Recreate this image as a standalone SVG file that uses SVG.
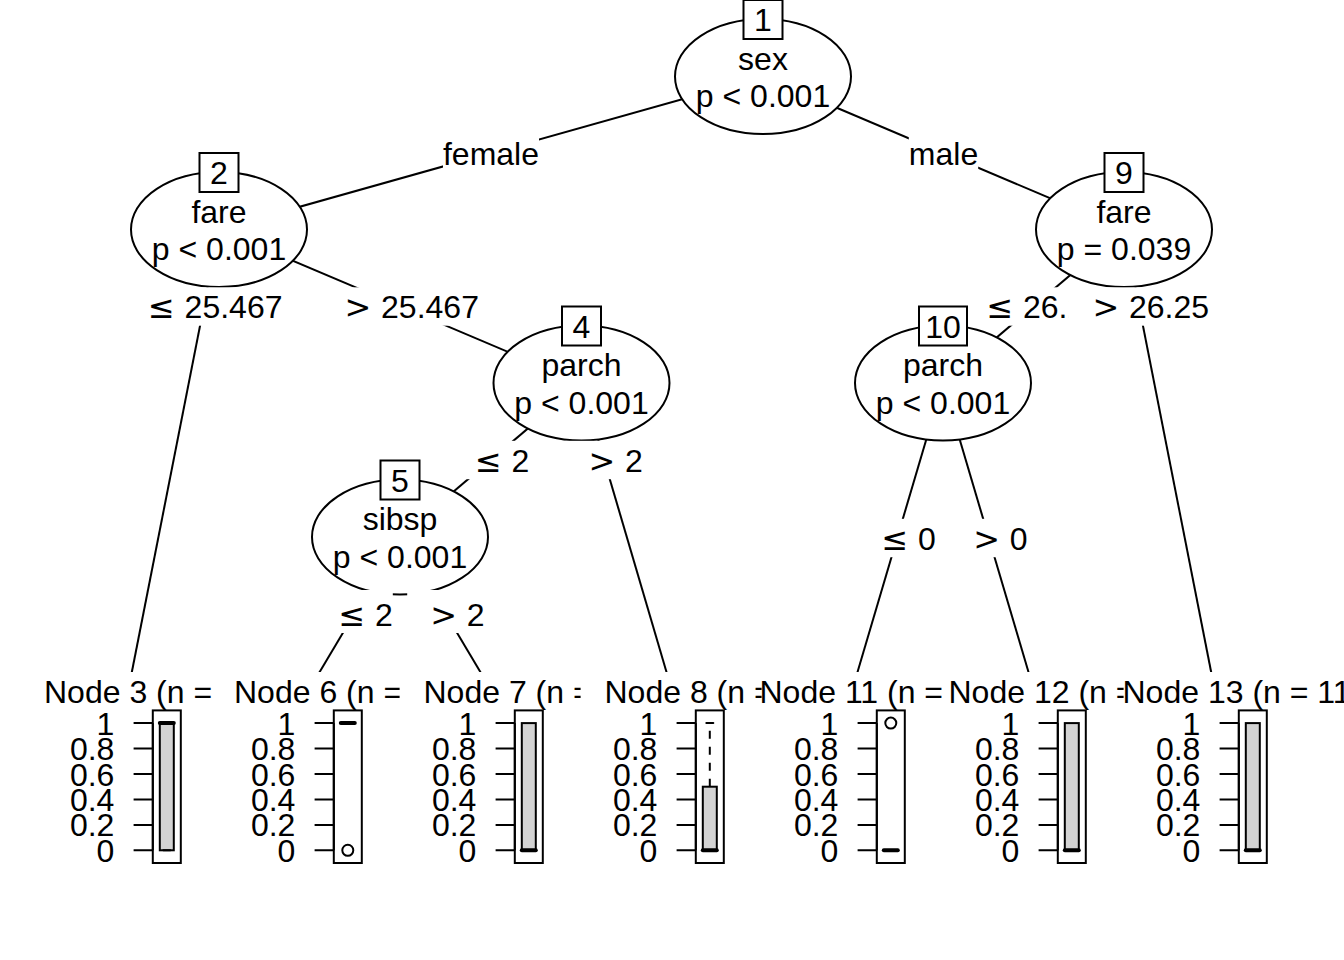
<svg xmlns="http://www.w3.org/2000/svg" width="1344" height="960" viewBox="0 0 1344 960">
<style>
text{font-family:"Liberation Sans",Arial,"DejaVu Sans",sans-serif;font-size:32px;fill:#000}
.op{font-family:"DejaVu Sans","Liberation Sans",sans-serif}
.c{text-anchor:middle}
.e{text-anchor:end}
.ln{stroke:#000;stroke-width:2;fill:none}
.nd{fill:#fff;stroke:#000;stroke-width:2}
.bg{fill:#fff;stroke:none}
.bx{fill:#d3d3d3;stroke:#000;stroke-width:2}
.md{stroke:#000;stroke-width:4;stroke-linecap:round}
.wh{stroke:#000;stroke-width:2;stroke-linecap:round}
.ds{stroke:#000;stroke-width:2;stroke-dasharray:8 8}
.pt{fill:none;stroke:#000;stroke-width:2}
.fr{fill:none;stroke:#000;stroke-width:2}
</style>
<rect width="1344" height="960" fill="#fff"/>
<g id="connectors" class="ln">
<line x1="763" y1="76.5" x2="219" y2="229.5"/>
<line x1="763" y1="76.5" x2="1124" y2="229.5"/>
<line x1="219" y1="229.5" x2="128.5" y2="689"/>
<line x1="219" y1="229.5" x2="581.5" y2="383"/>
<line x1="581.5" y1="383" x2="400" y2="537"/>
<line x1="400" y1="537" x2="309.5" y2="689"/>
<line x1="400" y1="537" x2="490.5" y2="689"/>
<line x1="581.5" y1="383" x2="671.5" y2="689"/>
<line x1="1124" y1="229.5" x2="943" y2="383"/>
<line x1="943" y1="383" x2="852.5" y2="689"/>
<line x1="943" y1="383" x2="1033.5" y2="689"/>
<line x1="1124" y1="229.5" x2="1214.5" y2="689"/>
</g>
<g id="node1">
<ellipse class="nd" cx="763" cy="76.5" rx="88" ry="57.5"/>
<rect class="nd" x="743.5" y="0" width="39" height="39"/>
<text class="c" x="763" y="31">1</text>
<text class="c" x="763" y="69.5">sex</text>
<text class="c" x="763" y="107">p &lt; 0.001</text>
</g>
<g id="node2">
<ellipse class="nd" cx="219" cy="229.5" rx="88" ry="57.5"/>
<rect class="nd" x="199.5" y="153" width="39" height="39"/>
<text class="c" x="219" y="184">2</text>
<text class="c" x="219" y="222.5">fare</text>
<text class="c" x="219" y="260">p &lt; 0.001</text>
</g>
<g id="node4">
<ellipse class="nd" cx="581.5" cy="383" rx="88" ry="57.5"/>
<rect class="nd" x="562" y="306.5" width="39" height="39"/>
<text class="c" x="581.5" y="337.5">4</text>
<text class="c" x="581.5" y="376">parch</text>
<text class="c" x="581.5" y="413.5">p &lt; 0.001</text>
</g>
<g id="node5">
<ellipse class="nd" cx="400" cy="537" rx="88" ry="57.5"/>
<rect class="nd" x="380.5" y="460.5" width="39" height="39"/>
<text class="c" x="400" y="491.5">5</text>
<text class="c" x="400" y="530">sibsp</text>
<text class="c" x="400" y="567.5">p &lt; 0.001</text>
</g>
<g id="node9">
<ellipse class="nd" cx="1124" cy="229.5" rx="88" ry="57.5"/>
<rect class="nd" x="1104.5" y="153" width="39" height="39"/>
<text class="c" x="1124" y="184">9</text>
<text class="c" x="1124" y="222.5">fare</text>
<text class="c" x="1124" y="260">p = 0.039</text>
</g>
<g id="node10">
<ellipse class="nd" cx="943" cy="383" rx="88" ry="57.5"/>
<rect class="nd" x="919" y="306.5" width="48" height="39"/>
<text class="c" x="943" y="337.5">10</text>
<text class="c" x="943" y="376">parch</text>
<text class="c" x="943" y="413.5">p &lt; 0.001</text>
</g>
<g id="edge-labels">
<rect class="bg" x="443" y="134.3" width="96" height="38.4"/>
<text class="c" x="491" y="165">female</text>
<rect class="bg" x="908.8" y="134.3" width="69.4" height="38.4"/>
<text class="c" x="943.5" y="165">male</text>
<rect class="bg" x="125.1" y="287.3" width="157.4" height="38.4"/>
<text y="318"><tspan class="op" x="148.1">≤</tspan><tspan x="184.6">25.467</tspan></text>
<rect class="bg" x="321.55" y="287.3" width="157.4" height="38.4"/>
<text y="318"><tspan class="op" x="344.5">&gt;</tspan><tspan x="381.05">25.467</tspan></text>
<rect class="bg" x="969" y="287.3" width="134" height="38.4"/>
<text y="318"><tspan class="op" x="986.4">≤</tspan><tspan x="1022.9">26.25</tspan></text>
<rect class="bg" x="1068.2" y="287.3" width="140.8" height="38.4"/>
<text y="318"><tspan class="op" x="1092.4">&gt;</tspan><tspan x="1128.9">26.25</tspan></text>
<rect class="bg" x="452.1" y="440.8" width="77.3" height="38.4"/>
<text y="471.5"><tspan class="op" x="475.1">≤</tspan><tspan x="511.6">2</tspan></text>
<rect class="bg" x="565.45" y="440.8" width="77.3" height="38.4"/>
<text y="471.5"><tspan class="op" x="588.45">&gt;</tspan><tspan x="624.95">2</tspan></text>
<rect class="bg" x="315.5" y="590" width="77.3" height="43"/>
<text y="625.5"><tspan class="op" x="338.5">≤</tspan><tspan x="375">2</tspan></text>
<rect class="bg" x="407.2" y="590" width="77.3" height="43"/>
<text y="625.5"><tspan class="op" x="430.2">&gt;</tspan><tspan x="466.7">2</tspan></text>
<rect class="bg" x="858.55" y="518.8" width="77.3" height="38.4"/>
<text y="549.5"><tspan class="op" x="881.55">≤</tspan><tspan x="918.05">0</tspan></text>
<rect class="bg" x="950.15" y="518.8" width="77.3" height="38.4"/>
<text y="549.5"><tspan class="op" x="973.15">&gt;</tspan><tspan x="1009.65">0</tspan></text>
</g>
<defs>
<g id="axis">
<line class="ln" x1="24.3" y1="723.1" x2="24.3" y2="850.3"/>
<path class="ln" d="M5.1 850.3H24.3M5.1 824.9H24.3M5.1 799.4H24.3M5.1 774H24.3M5.1 748.6H24.3M5.1 723.1H24.3"/>
<text class="e" x="-14.1" y="861.8">0</text>
<text class="e" x="-14.1" y="836.4">0.2</text>
<text class="e" x="-14.1" y="810.9">0.4</text>
<text class="e" x="-14.1" y="785.5">0.6</text>
<text class="e" x="-14.1" y="760.1">0.8</text>
<text class="e" x="-14.1" y="734.6">1</text>
</g>
</defs>
<g id="node3">
<rect class="bg" x="37.6" y="672" width="181.8" height="191"/>
<text x="44" y="703">Node 3 (n =</text>
<use href="#axis" x="128.5"/>
<rect class="bx" x="159.8" y="723.1" width="14" height="127.2"/>
<line class="wh" x1="163.3" y1="850.3" x2="170.3" y2="850.3"/>
<line class="md" x1="159.8" y1="723.1" x2="173.8" y2="723.1"/>
<rect class="fr" x="152.8" y="710.4" width="28" height="152.6"/>
</g>
<g id="node6">
<rect class="bg" x="218.6" y="672" width="181.8" height="191"/>
<text x="234" y="703">Node 6 (n =</text>
<use href="#axis" x="309.5"/>
<line class="md" x1="340.8" y1="723.1" x2="354.8" y2="723.1"/>
<circle class="pt" cx="347.8" cy="850.3" r="5.5"/>
<rect class="fr" x="333.8" y="710.4" width="28" height="152.6"/>
</g>
<g id="node7">
<rect class="bg" x="399.6" y="672" width="181.8" height="191"/>
<text x="423.5" y="703">Node 7 (n =</text>
<use href="#axis" x="490.5"/>
<rect class="bx" x="521.8" y="723.1" width="14" height="127.2"/>
<line class="md" x1="521.8" y1="850.3" x2="535.8" y2="850.3"/>
<rect class="fr" x="514.8" y="710.4" width="28" height="152.6"/>
</g>
<g id="node8">
<rect class="bg" x="580.6" y="672" width="181.8" height="191"/>
<text x="604.5" y="703">Node 8 (n =</text>
<use href="#axis" x="671.5"/>
<line class="ds" x1="709.8" y1="786.7" x2="709.8" y2="723.1"/>
<line class="wh" x1="706.3" y1="723.1" x2="713.3" y2="723.1"/>
<rect class="bx" x="702.8" y="786.7" width="14" height="63.6"/>
<line class="md" x1="702.8" y1="850.3" x2="716.8" y2="850.3"/>
<rect class="fr" x="695.8" y="710.4" width="28" height="152.6"/>
</g>
<g id="node11">
<rect class="bg" x="761.6" y="672" width="181.8" height="191"/>
<text x="759.5" y="703">Node 11 (n =</text>
<use href="#axis" x="852.5"/>
<circle class="pt" cx="890.8" cy="723.1" r="5.5"/>
<line class="md" x1="883.8" y1="850.3" x2="897.8" y2="850.3"/>
<rect class="fr" x="876.8" y="710.4" width="28" height="152.6"/>
</g>
<g id="node12">
<rect class="bg" x="942.6" y="672" width="181.8" height="191"/>
<text x="948.5" y="703">Node 12 (n =</text>
<use href="#axis" x="1033.5"/>
<rect class="bx" x="1064.8" y="723.1" width="14" height="127.2"/>
<line class="md" x1="1064.8" y1="850.3" x2="1078.8" y2="850.3"/>
<rect class="fr" x="1057.8" y="710.4" width="28" height="152.6"/>
</g>
<g id="node13">
<rect class="bg" x="1123.6" y="672" width="181.8" height="191"/>
<text x="1122.5" y="703">Node 13 (n = 11</text>
<use href="#axis" x="1214.5"/>
<rect class="bx" x="1245.8" y="723.1" width="14" height="127.2"/>
<line class="md" x1="1245.8" y1="850.3" x2="1259.8" y2="850.3"/>
<rect class="fr" x="1238.8" y="710.4" width="28" height="152.6"/>
</g>
</svg>
